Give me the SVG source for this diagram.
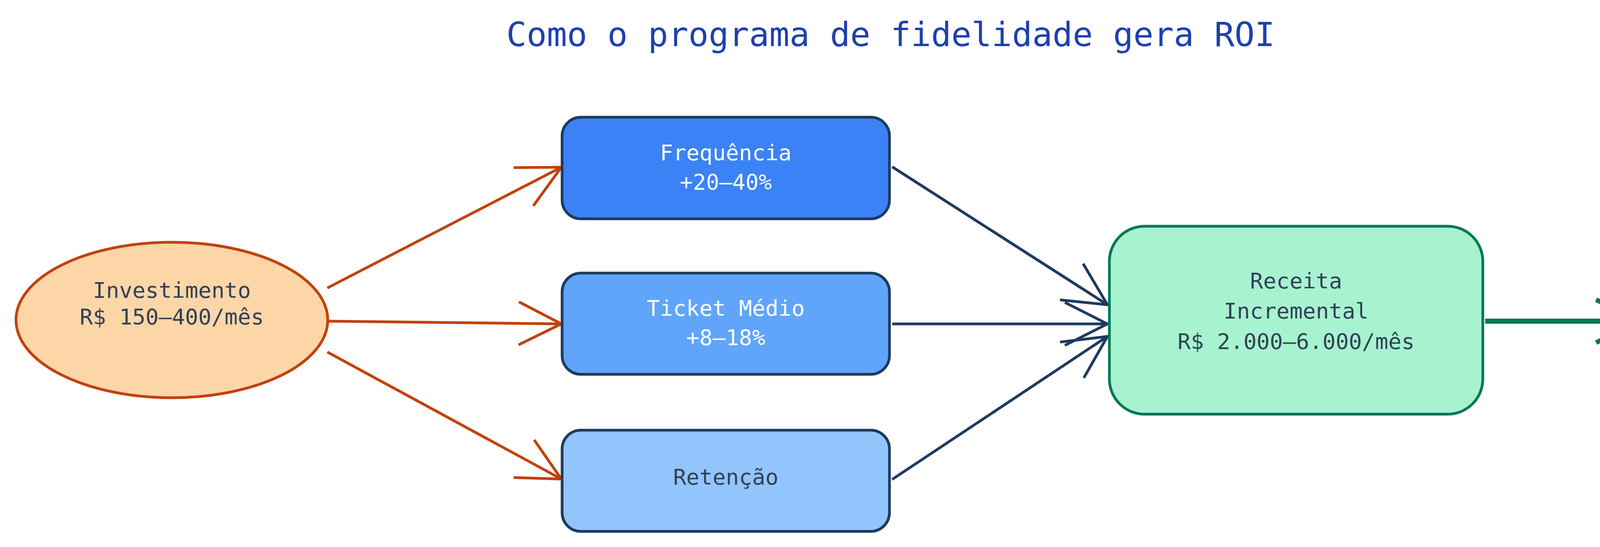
<svg xmlns="http://www.w3.org/2000/svg" width="4960" height="1400" viewBox="0 0 4960 1400">
<style>
text{font-family:"DejaVu Sans Mono","Liberation Mono",monospace;text-anchor:middle;font-size:56px;fill:#334155}
.w{fill:#ffffff}
.g{fill:#047857;font-size:62px}
.or{stroke:#c2410c;stroke-width:7;fill:none}
.nv{stroke:#1e3a5f;stroke-width:7;fill:none}
.gr{stroke:#047857;stroke-width:13;fill:none}
</style>
<defs>
<marker id="mo" viewBox="0 0 20 20" refX="19" refY="10" markerWidth="20" markerHeight="20" markerUnits="userSpaceOnUse" orient="auto" overflow="visible"><path d="M-90,-45 L19,10 L-90,65" transform="scale(1)" fill="none" stroke="#c2410c" stroke-width="7"/></marker>
<marker id="mn" viewBox="0 0 20 20" refX="19" refY="10" markerWidth="20" markerHeight="20" markerUnits="userSpaceOnUse" orient="auto" overflow="visible"><path d="M-90,-45 L19,10 L-90,65" fill="none" stroke="#1e3a5f" stroke-width="7"/></marker>
<marker id="mg" viewBox="0 0 20 20" refX="19" refY="10" markerWidth="20" markerHeight="20" markerUnits="userSpaceOnUse" orient="auto" overflow="visible"><path d="M-90,-45 L19,10 L-90,65" fill="none" stroke="#047857" stroke-width="12"/></marker>
</defs>
<text x="2280" y="118" style="font-size:86px;fill:#1e40af">Como o programa de fidelidade gera ROI</text>
<g id="edges">
<path class="or" d="M838,737 L1437,428" marker-end="url(#mo)"/>
<path class="or" d="M838,822 L1437,829" marker-end="url(#mo)"/>
<path class="or" d="M838,901 L1437,1226" marker-end="url(#mo)"/>
<path class="nv" d="M2284,427 L2835,780" marker-end="url(#mn)"/>
<path class="nv" d="M2284,829 L2835,829" marker-end="url(#mn)"/>
<path class="nv" d="M2284,1227 L2835,861" marker-end="url(#mn)"/>
<path class="gr" d="M3802,822 L4195,822" marker-end="url(#mg)"/>
</g>
<g id="investimento">
<ellipse cx="440" cy="819" rx="399" ry="199" fill="#fdd6a8" stroke="#c2410c" stroke-width="7"/>
<text x="440" y="762">Investimento</text>
<text x="440" y="830">R$ 150–400/mês</text>
</g>
<g id="frequencia">
<rect x="1439" y="300" width="838" height="260" rx="48" fill="#3b82f6" stroke="#1e3a5f" stroke-width="7"/>
<text class="w" x="1858" y="410">Frequência</text>
<text class="w" x="1858" y="485">+20–40%</text>
</g>
<g id="ticket">
<rect x="1439" y="699" width="838" height="259" rx="48" fill="#60a5fa" stroke="#1e3a5f" stroke-width="7"/>
<text class="w" x="1858" y="808">Ticket Médio</text>
<text class="w" x="1858" y="883">+8–18%</text>
</g>
<g id="retencao">
<rect x="1439" y="1101" width="838" height="259" rx="48" fill="#93c5fd" stroke="#1e3a5f" stroke-width="7"/>
<text x="1858" y="1240">Retenção</text>
</g>
<g id="receita">
<rect x="2840" y="579" width="956" height="481" rx="90" fill="#a7f3d0" stroke="#047857" stroke-width="7"/>
<text x="3318" y="738">Receita</text>
<text x="3318" y="815">Incremental</text>
<text x="3318" y="893">R$ 2.000–6.000/mês</text>
</g>
<g id="roi">
<ellipse cx="4558" cy="819" rx="361" ry="199" fill="#a7f3d0" stroke="#047857" stroke-width="12"/>
<text class="g" x="4558" y="775">ROI</text>
<text class="g" x="4558" y="863">300–1.500%</text>
</g>
</svg>
